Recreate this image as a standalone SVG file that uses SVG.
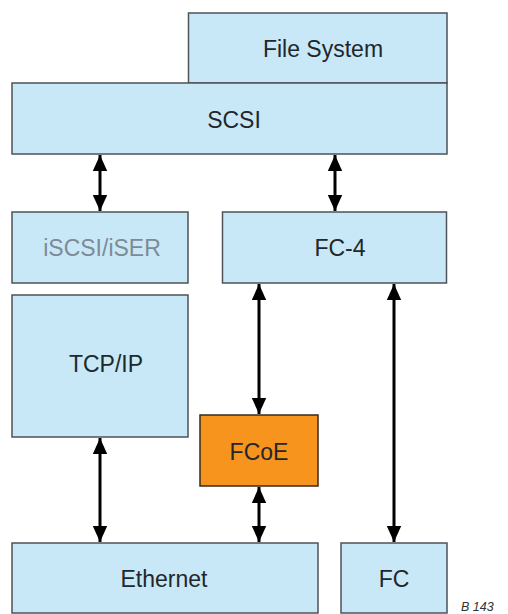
<svg xmlns="http://www.w3.org/2000/svg" width="508" height="614" viewBox="0 0 508 614">
  <style>
    .box { fill: #c8e8f8; stroke: #4d5358; stroke-width: 1.5; }
    .fcoe { fill: #f7941d; stroke: #3a2a1a; stroke-width: 1.5; }
    .lbl { font-family: "Liberation Sans", Arial, sans-serif; font-size: 23px; fill: #22272b; text-anchor: middle; }
    .dim { fill: #7d8b95; }
    .link { stroke: #000; stroke-width: 3; fill: none; marker-start: url(#head); marker-end: url(#head); }
    .note { font-family: "Liberation Sans", Arial, sans-serif; font-size: 12.5px; font-style: italic; fill: #333; }
  </style>
  <defs>
    <marker id="head" viewBox="0 0 10 10" refX="10" refY="5" markerWidth="16" markerHeight="16" markerUnits="userSpaceOnUse" orient="auto-start-reverse">
      <path d="M0,0.5 L10,5 L0,9.5 Z" fill="#000"/>
    </marker>
  </defs>

  <rect width="508" height="614" fill="#fff"/>

  <g id="file-system">
    <rect class="box" x="188.5" y="13" width="258.5" height="70"/>
    <text class="lbl" x="323" y="57">File System</text>
  </g>
  <g id="scsi">
    <rect class="box" x="12" y="83" width="435" height="71"/>
    <text class="lbl" x="234" y="128">SCSI</text>
  </g>
  <g id="iscsi-iser">
    <rect class="box" x="12" y="212" width="176" height="71"/>
    <text class="lbl dim" x="102" y="256">iSCSI/iSER</text>
  </g>
  <g id="fc-4">
    <rect class="box" x="222.5" y="212" width="224" height="71"/>
    <text class="lbl" x="340" y="256">FC-4</text>
  </g>
  <g id="tcp-ip">
    <rect class="box" x="12" y="295" width="176" height="142"/>
    <text class="lbl" x="106" y="372">TCP/IP</text>
  </g>
  <g id="fcoe">
    <rect class="fcoe" x="200" y="415" width="118" height="71"/>
    <text class="lbl" x="259" y="460" fill="#2a1a0a">FCoE</text>
  </g>
  <g id="ethernet">
    <rect class="box" x="12" y="543" width="306" height="70"/>
    <text class="lbl" x="164" y="587">Ethernet</text>
  </g>
  <g id="fc">
    <rect class="box" x="341" y="543" width="106" height="70"/>
    <text class="lbl" x="394" y="587">FC</text>
  </g>

  <g id="connectors">
    <line class="link" x1="100" y1="155" x2="100" y2="211"/>
    <line class="link" x1="335" y1="155" x2="335" y2="211"/>
    <line class="link" x1="259" y1="284" x2="259" y2="414"/>
    <line class="link" x1="394" y1="284" x2="394" y2="542"/>
    <line class="link" x1="100" y1="438" x2="100" y2="542"/>
    <line class="link" x1="259" y1="487" x2="259" y2="542"/>
  </g>

  <text class="note" x="461" y="611">B 143</text>
</svg>
